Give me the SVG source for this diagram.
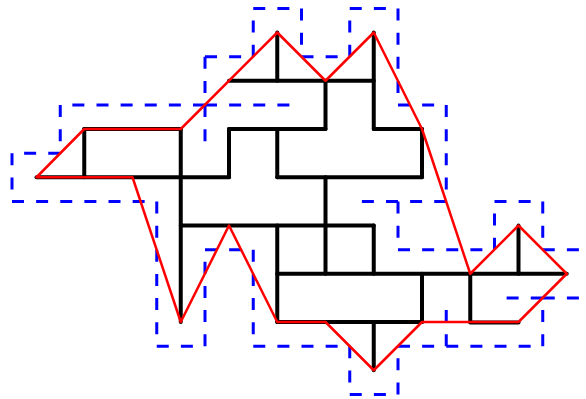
<svg xmlns="http://www.w3.org/2000/svg" width="586" height="399" viewBox="0 0 586 399">
<style>
.blue{fill:none;stroke:#00f;stroke-width:3;stroke-dasharray:12 12.13}
.black{fill:none;stroke:#000;stroke-width:4;stroke-linecap:round;stroke-linejoin:round}
.red{fill:none;stroke:#f00;stroke-width:2.5;stroke-linejoin:round}
</style>
<rect width="586" height="399" fill="#fff"/>
<g id="dual-dashed" class="blue">
<path d="M60.25 153.25H12"/><path d="M12 153.25V201.5"/><path d="M12 201.5H60.25"/><path d="M60.25 201.5H108.5"/><path d="M108.5 201.5H156.75"/>
<path d="M156.75 201.5V249.75"/><path d="M156.75 249.75V298"/><path d="M156.75 298V346.25"/><path d="M156.75 346.25H205"/>
<path d="M205 346.25V298"/><path d="M205 298V249.75"/><path d="M205 249.75H253.25"/><path d="M253.25 249.75V298"/><path d="M253.25 298V346.25"/>
<path d="M253.25 346.25H301.5"/><path d="M301.5 346.25H349.75"/><path d="M349.75 346.25V394.5"/><path d="M349.75 394.5H398"/><path d="M398 394.5V346.25"/>
<path d="M398 346.25H446.25"/><path d="M446.25 346.25V298"/><path d="M446.25 346.25H494.5"/><path d="M494.5 346.25H542.75"/><path d="M542.75 346.25V298"/>
<path d="M542.75 298H494.5"/><path d="M542.75 298H591"/>
<path d="M542.75 249.75H591"/><path d="M542.75 201.5V249.75"/><path d="M494.5 201.5H542.75"/><path d="M494.5 249.75V201.5"/>
<path d="M446.25 249.75H494.5"/><path d="M398 249.75H446.25"/><path d="M398 201.5V249.75"/><path d="M398 201.5H349.75"/><path d="M446.25 201.5H398"/>
<path d="M446.25 105V153.25"/><path d="M446.25 153.25V201.5"/><path d="M398 105H446.25"/><path d="M398 8.5V56.75"/><path d="M398 56.75V105"/>
<path d="M349.75 8.5H398"/><path d="M349.75 56.75V8.5"/><path d="M301.5 56.75H349.75"/><path d="M301.5 8.5V56.75"/><path d="M253.25 8.5H301.5"/>
<path d="M253.25 56.75V8.5"/><path d="M205 56.75H253.25"/><path d="M205 56.75V105"/><path d="M205 105V153.25"/>
<path d="M108.5 105H60.25"/><path d="M156.75 105H108.5"/><path d="M205 105H156.75"/><path d="M205 105H253.25"/><path d="M253.25 105H301.5"/>
<path d="M60.25 105V153.25"/>
</g>
<g id="grid-edges" class="black">
<path d="M229 80.75H373.75"/><path d="M277.25 32.5V80.75"/><path d="M373.75 32.5V129"/><path d="M325.5 80.75V129"/>
<path d="M84.25 129H180.75"/><path d="M229 129H325.5"/><path d="M373.75 129H422"/>
<path d="M84.25 129V177.25"/><path d="M180.75 129V322"/><path d="M229 129V177.25"/><path d="M277.25 129V177.25"/><path d="M422 129V177.25"/>
<path d="M36.5 177.25H229"/><path d="M277.25 177.25H422"/><path d="M325.5 177.25V273.75"/><path d="M180.75 225.5H373.75"/>
<path d="M277.25 225.5V322"/><path d="M373.75 225.5V273.75"/><path d="M277.25 273.75H566.75"/>
<path d="M422 273.75V322"/><path d="M470.25 273.75V322"/><path d="M518.5 225.5V273.75"/>
<path d="M277.25 322H422"/><path d="M470.25 322.5H518.5"/><path d="M373.75 322V370.25"/>
</g>
<g id="outline" class="red">
<path d="M36.5 177.25L84.25 129H180.75L277.25 32.5L325.5 80.75L373.75 32.5L422 129L470.25 273.75L518.5 225.5L566.75 273.75L518.5 322H422L373.75 370.25L325.5 322H277.25L229 225.5L180.75 322L132.5 177.25Z"/>
</g>
</svg>
